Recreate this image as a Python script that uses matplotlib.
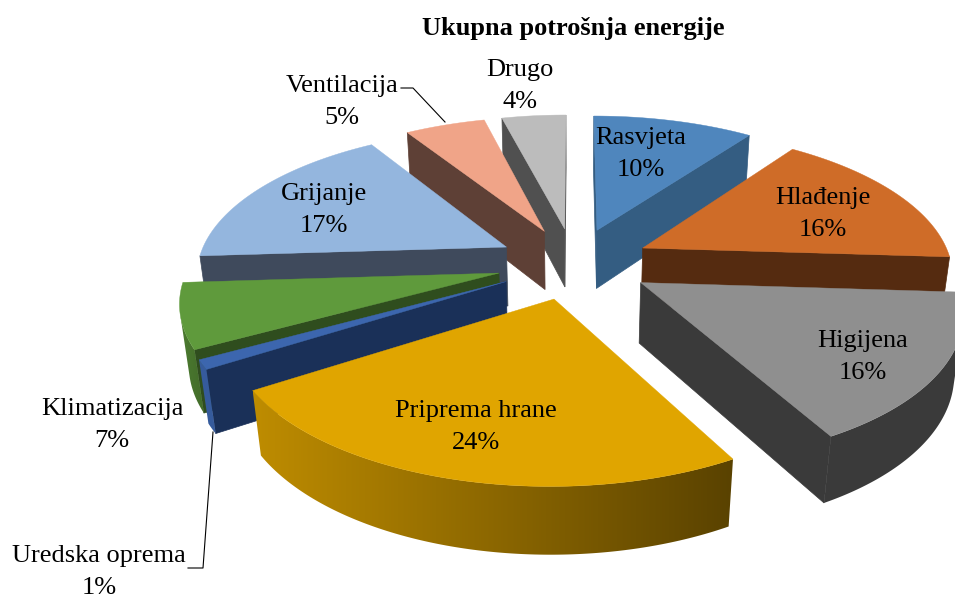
import numpy as np
import matplotlib
matplotlib.use('Agg')
import matplotlib.pyplot as plt
from matplotlib.patches import Polygon

plt.rcParams['font.family'] = ['Liberation Serif', 'DejaVu Serif']

TITLE = 'Ukupna potrošnja energije'
labels = ['Rasvjeta', 'Hlađenje', 'Higijena', 'Priprema hrane', 'Uredska oprema',
          'Klimatizacija', 'Grijanje', 'Ventilacija', 'Drugo']
values = [10, 16, 16, 24, 1, 7, 17, 5, 4]
top_colors = ['#4f86bd', '#cf6c28', '#8f8f8f', '#e0a500', '#3c66ae',
              '#5f9a3c', '#94b6de', '#f0a488', '#bcbcbc']
cut_colors = ['#345d82', '#552b10', '#3a3a3a', '#5c4400', '#1a3058',
              '#2f4d1e', '#3f4a5c', '#5e4036', '#505050']
# outer rim shading: brightness at the left end and the right end of the visible arc
rim_left = [0.6, 0.35, 0.41, 0.85, 0.9, 0.8, 0.45, 0.5, 0.5]
rim_right = [0.6, 0.35, 0.41, 0.40, 0.9, 0.7, 0.45, 0.5, 0.5]
label_pos = [(641, 154), (823, 214), (863, 357), (476, 427), (99, 572),
             (112, 425), (324, 210), (342, 102), (520, 86)]

CX, CY = 574, 263
RX, RY = 309, 143
PERSP, PERSP_Z = 0.165, 0.023
EXPLODE = 0.25
DEPTH = 61


def project(x, y, h=0.0):
    s = 1 / (1 + PERSP * y + PERSP_Z * h)
    return CX + RX * x * s, CY - RY * y * s + DEPTH * h * s


def area(pts):
    a = np.array(pts)
    return 0.5 * np.sum(a[:, 0] * np.roll(a[:, 1], -1) - np.roll(a[:, 0], -1) * a[:, 1])


def draw_wall(ax, outline, col, f0, f1, z):
    # horizontal gradient clipped to the wall outline
    a = np.array(outline)
    x0, x1, y0, y1 = a[:, 0].min(), a[:, 0].max(), a[:, 1].min(), a[:, 1].max()
    f = np.linspace(f0, f1, 256)[None, :, None]
    img = f * np.array(matplotlib.colors.to_rgb(col))[None, None, :]
    im = ax.imshow(img, extent=(x0, x1, y1, y0), aspect='auto', zorder=z, interpolation='bilinear')
    im.set_clip_path(Polygon(a, closed=True, transform=ax.transData))


fig = plt.figure(figsize=(9.55, 5.99), dpi=100)
ax = fig.add_axes([0, 0, 1, 1])
ax.axis('off')

edges = np.cumsum([0] + values) / sum(values) * 2 * np.pi
slices = []
for i in range(len(values)):
    mid = (edges[i] + edges[i + 1]) / 2
    ox, oy = EXPLODE * np.sin(mid), EXPLODE * np.cos(mid)
    slices.append((oy, i, ox))

# back slices first so the front ones cover them
for order, (oy, i, ox) in enumerate(sorted(slices, key=lambda t: -t[0])):
    ang = np.linspace(edges[i], edges[i + 1], 120)
    rx, ry = ox + np.sin(ang), oy + np.cos(ang)

    # cut faces, only the ones turned to the viewer
    for k, sign in ((0, -1), (-1, 1)):
        quad = [project(ox, oy), project(rx[k], ry[k]), project(rx[k], ry[k], 1), project(ox, oy, 1)]
        if area(quad) * sign > 0:
            xs, ys = zip(*quad)
            ax.fill(xs, ys, color=cut_colors[i], lw=0.5, zorder=order)

    # outer wall, only the part of the arc that faces the viewer
    upper, lower = [], []
    for j in range(len(ang) - 1):
        q = [project(rx[j], ry[j]), project(rx[j + 1], ry[j + 1]),
             project(rx[j + 1], ry[j + 1], 1), project(rx[j], ry[j], 1)]
        if area(q) < 0:
            upper += [q[0], q[1]]
            lower += [q[3], q[2]]
    if upper:
        draw_wall(ax, upper + lower[::-1], top_colors[i], rim_left[i], rim_right[i], order)

    # top face
    tx, ty = project(np.r_[ox, rx], np.r_[oy, ry])
    ax.fill(tx, ty, color=top_colors[i], lw=0.3, zorder=order)

ax.set_xlim(0, 955)
ax.set_ylim(599, 0)

zt = 50
ax.text(573, 28, TITLE, ha='center', va='center', fontsize=19, fontweight='bold', zorder=zt)
for name, v, (lx, ly) in zip(labels, values, label_pos):
    ax.text(lx, ly, f'{name}\n{v}%', ha='center', va='center', fontsize=19,
            linespacing=1.55, zorder=zt)

# leader lines of the two outside labels
ax.plot([401, 413, 445], [88, 88, 122], color='black', lw=0.8, zorder=zt)
ax.plot([188, 203, 213], [568, 568, 432], color='black', lw=0.8, zorder=zt)

fig.savefig('out.png', dpi=100, facecolor='white')
